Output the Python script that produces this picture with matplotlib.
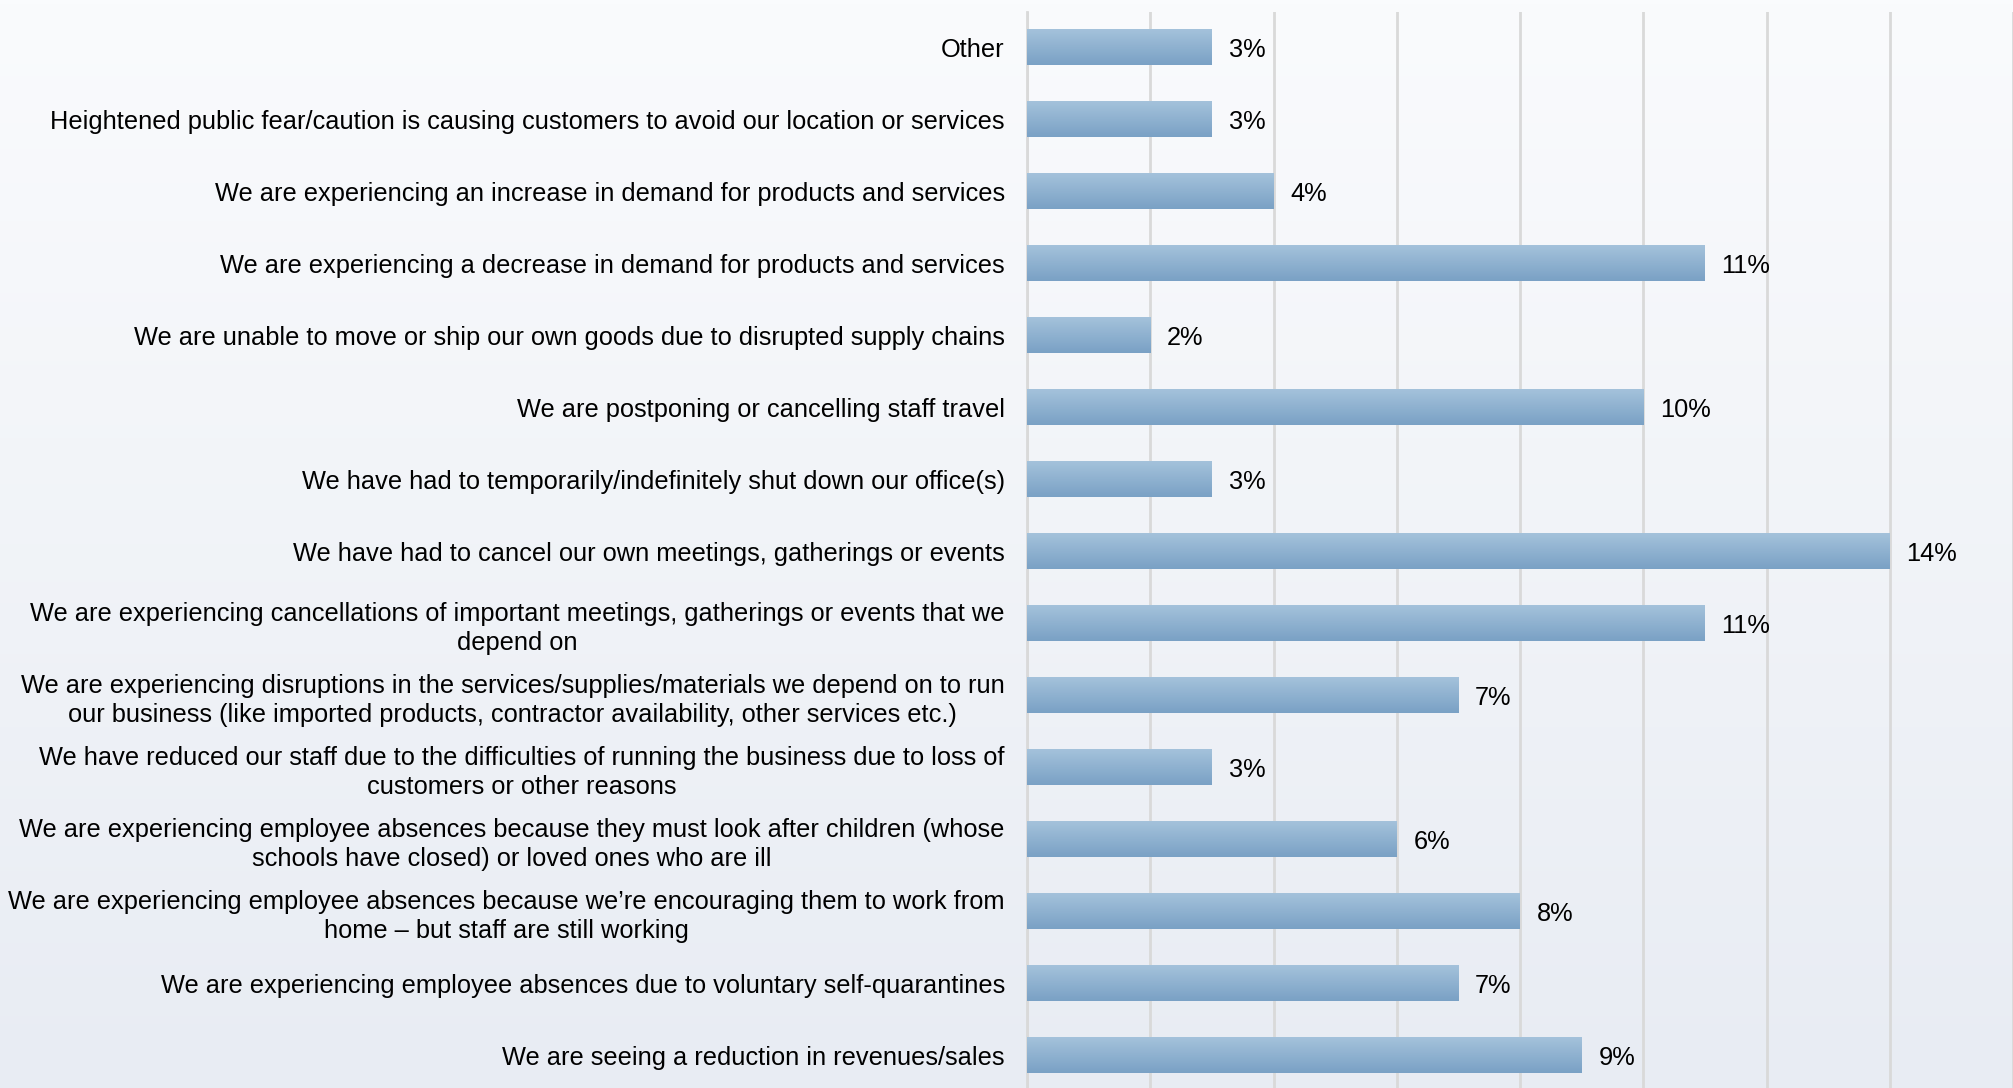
import numpy as np
import matplotlib
matplotlib.use('Agg')
import matplotlib.pyplot as plt
from matplotlib.colors import LinearSegmentedColormap

plt.rcParams['font.family'] = ['Liberation Sans', 'DejaVu Sans']

# 数据 (bottom to top)
categories = [
    "We are seeing a reduction in revenues/sales",
    "We are experiencing employee absences due to voluntary self-quarantines",
    "We are experiencing employee absences because we\u2019re encouraging them to work from\nhome \u2013 but staff are still working",
    "We are experiencing employee absences because they must look after children (whose\nschools have closed) or loved ones who are ill",
    "We have reduced our staff due to the difficulties of running the business due to loss of\ncustomers or other reasons",
    "We are experiencing disruptions in the services/supplies/materials we depend on to run\nour business (like imported products, contractor availability, other services etc.)",
    "We are experiencing cancellations of important meetings, gatherings or events that we\ndepend on",
    "We have had to cancel our own meetings, gatherings or events",
    "We have had to temporarily/indefinitely shut down our office(s)",
    "We are postponing or cancelling staff travel",
    "We are unable to move or ship our own goods due to disrupted supply chains",
    "We are experiencing a decrease in demand for products and services",
    "We are experiencing an increase in demand for products and services",
    "Heightened public fear/caution is causing customers to avoid our location or services",
    "Other",
]
values = [9, 7, 8, 6, 3, 7, 11, 14, 3, 10, 2, 11, 4, 3, 3]

fig = plt.figure(figsize=(20.13, 10.88), dpi=100)

# 背景渐变
bg = fig.add_axes([0, 0, 1, 1], zorder=0)
bg_cmap = LinearSegmentedColormap.from_list('bg', ['#fafbfd', '#e8ecf3'])
bg.imshow(np.linspace(0, 1, 256).reshape(-1, 1), aspect='auto', cmap=bg_cmap,
          extent=[0, 1, 0, 1])
bg.axis('off')

ax = fig.add_axes([1027 / 2013, -3 / 1088, 1 - 1027 / 2013, 1 - 8.5 / 1088], zorder=1)
ax.set_facecolor('none')

y = np.arange(len(categories))
bars = ax.barh(y, values, height=0.5, color='#8fb1d2', zorder=2)

bar_cmap = LinearSegmentedColormap.from_list('bar', ['#7aa1c5', '#a4c2db'])
grad = np.linspace(0, 1, 64).reshape(-1, 1)
for b in bars:
    x0, y0 = b.get_x(), b.get_y()
    w, h = b.get_width(), b.get_height()
    im = ax.imshow(grad, aspect='auto', cmap=bar_cmap, origin='lower',
                   extent=[x0, x0 + w, y0, y0 + h], zorder=3)
    im.set_clip_path(b)

for yi, v in zip(y, values):
    ax.annotate(f'{v}%', xy=(v, yi), xytext=(12, 0), textcoords='offset points',
                va='center_baseline', ha='left', fontsize=18.3, color='#000000')

ax.set_xlim(0, 16)
ax.set_ylim(-0.5, len(categories) - 0.5)
ax.set_xticks(np.arange(0, 17, 2))
ax.xaxis.grid(True, color='#d9d9d9', linewidth=2, zorder=0)
ax.set_axisbelow(True)
ax.tick_params(axis='x', length=0, labelbottom=False)
ax.tick_params(axis='y', length=0, pad=16)
ax.set_yticks(y)
ax.set_yticklabels(categories, fontsize=18.3, multialignment='center', linespacing=1.3)
for s in ['top', 'right', 'bottom']:
    ax.spines[s].set_visible(False)
ax.spines['left'].set_color('#d9d9d9')
ax.spines['left'].set_linewidth(2)

fig.savefig('out.png', dpi=100)
